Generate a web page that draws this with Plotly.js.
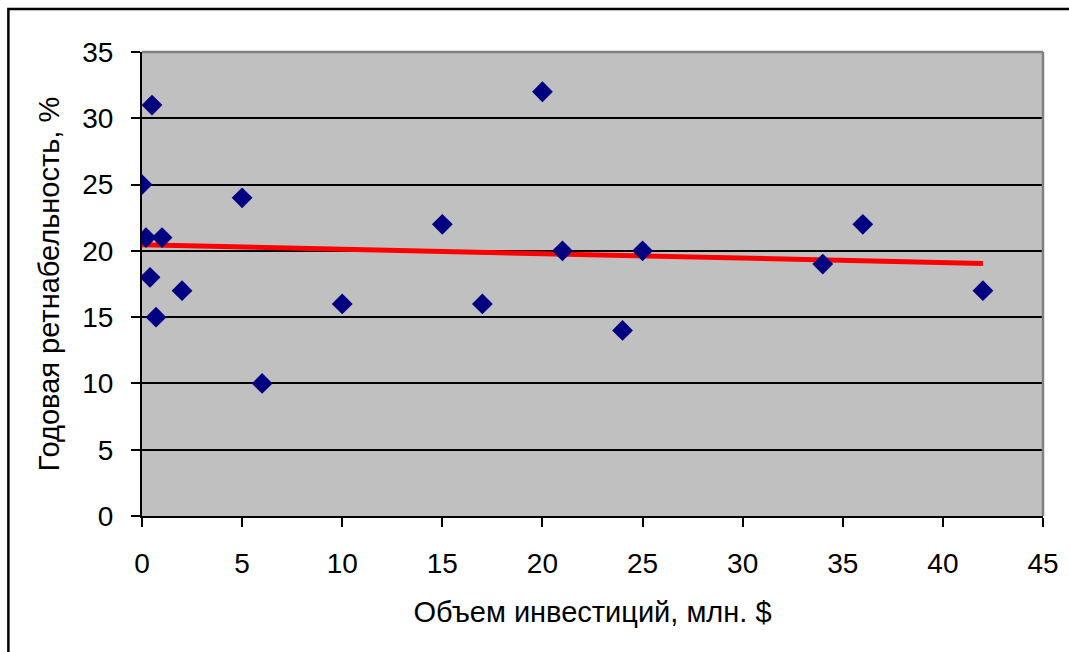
<!DOCTYPE html>
<html>
<head>
<meta charset="utf-8">
<script src="https://cdn.plot.ly/plotly-3.0.1.min.js"></script>
<style>
html,body{margin:0;padding:0;background:#fff;}
#chart{width:1069px;height:652px;}
</style>
</head>
<body>
<div id="chart"></div>
<script>
// Investment volume (mln $) and annual profitability (%)
var investX = [0.5, 0, 0.2, 1, 5, 0.4, 2, 0.7, 6, 10, 15, 17, 20, 21, 24, 25, 34, 36, 42];
var returnY = [31, 25, 21, 21, 24, 18, 17, 15, 10, 16, 22, 16, 32, 20, 14, 20, 19, 22, 17];
var xTickVals = [0, 5, 10, 15, 20, 25, 30, 35, 40, 45];
var yTickVals = [0, 5, 10, 15, 20, 25, 30, 35];
var xTitle = "Объем инвестиций, млн. $";
var yTitle = "Годовая ретнабельность, %";

// linear trend (least squares)
var n = investX.length, sx = 0, sy = 0, sxx = 0, sxy = 0;
for (var i = 0; i < n; i++) { sx += investX[i]; sy += returnY[i]; sxx += investX[i]*investX[i]; sxy += investX[i]*returnY[i]; }
var slope = (n*sxy - sx*sy) / (n*sxx - sx*sx);
var intercept = (sy - slope*sx) / n;
var xmin = Math.min.apply(null, investX), xmax = Math.max.apply(null, investX);
var trendX = [xmin, xmax];
var trendY = trendX.map(function(v){ return intercept + slope*v; });

var font = "Liberation Sans, Arial, sans-serif";
var data = [
  {x: trendX, y: trendY, mode: "lines", type: "scatter",
   line: {color: "#FF0000", width: 5}, hoverinfo: "skip"},
  {x: investX, y: returnY, mode: "markers", type: "scatter",
   marker: {symbol: "diamond", size: 16, color: "#000080", line: {width: 0}}}
];
var layout = {
  width: 1069, height: 652,
  margin: {l: 142, r: 26, t: 52, b: 136, pad: 0},
  paper_bgcolor: "#ffffff", plot_bgcolor: "#C0C0C0",
  showlegend: false,
  font: {family: font, size: 28, color: "#000"},
  xaxis: {range: [0, 45], tickvals: xTickVals, ticks: "outside", ticklen: 9, tickwidth: 2, tickcolor: "#000",
          showline: true, linecolor: "#000", linewidth: 2, showgrid: false, zeroline: false,
          ticklabelstandoff: 12, tickfont: {size: 28},
          title: {text: xTitle, font: {size: 29, family: font}, standoff: 24}},
  yaxis: {range: [0, 35], tickvals: yTickVals, ticks: "outside", ticklen: 9, tickwidth: 2, tickcolor: "#000",
          showline: true, linecolor: "#000", linewidth: 2, showgrid: true, gridcolor: "#000", gridwidth: 2,
          zeroline: false, ticklabelstandoff: 12, tickfont: {size: 28},
          title: {text: yTitle, font: {size: 29, family: font}, standoff: 14}},
  shapes: [
    {type: "line", xref: "paper", yref: "paper", x0: 0, x1: 1, y0: 1, y1: 1, line: {color: "#808080", width: 2.5}},
    {type: "line", xref: "paper", yref: "paper", x0: 1, x1: 1, y0: 0, y1: 1, line: {color: "#808080", width: 2.5}},
    {type: "rect", xref: "paper", yref: "paper", x0: -0.1483, x1: 1.1, y0: -0.35, y1: 1.0925,
     line: {color: "#000", width: 2.5}, fillcolor: "rgba(0,0,0,0)", layer: "above"}
  ]
};
Plotly.newPlot("chart", data, layout, {displayModeBar: false, staticPlot: true});
</script>
</body>
</html>
